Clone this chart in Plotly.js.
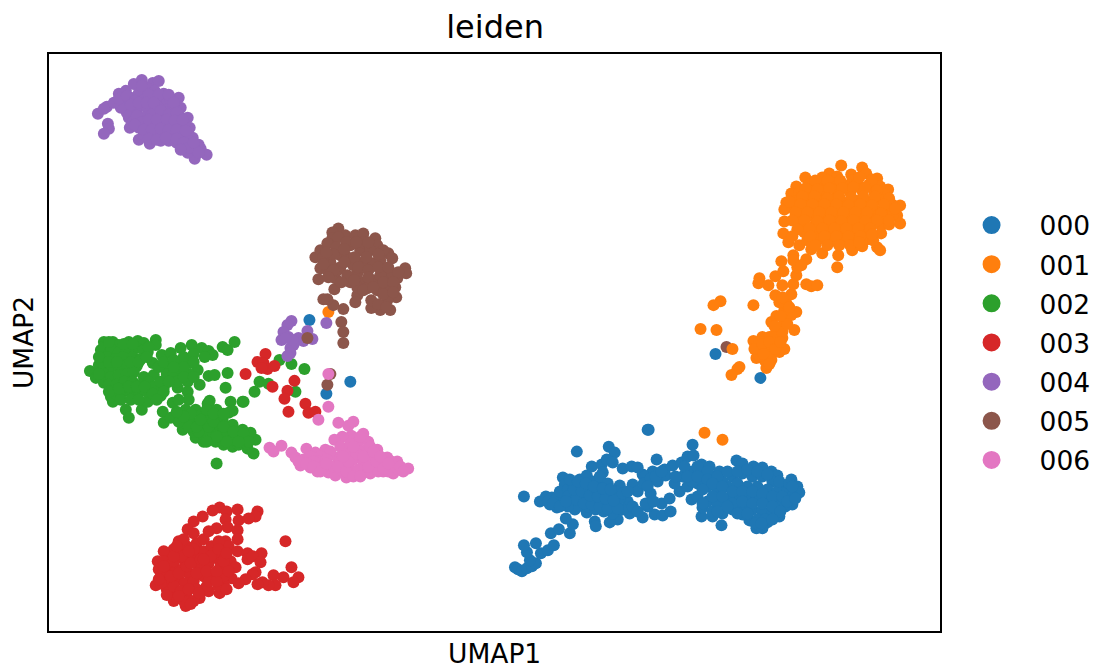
<!DOCTYPE html>
<html><head><meta charset="utf-8">
<script src="https://cdn.plot.ly/plotly-3.0.1.min.js"></script>
<style>html,body{margin:0;padding:0;background:#fff}#c{width:1094px;height:665px}</style>
</head><body><div id="c"></div>
<script>
const categories=['000','001','002','003','004','005','006'];
const colors=['#1f77b4','#ff7f0e','#2ca02c','#d62728','#9467bd','#8c564b','#e377c2'];
// values as [UMAP1, UMAP2] in arbitrary embedding units
const c000=[[601,202],[600,202],[645,187],[561,185],[529,180],[567,179],[609,172],[476,135],[467,64],[470,62],[474,60],[479,63],[484,65],[488,68],[482,71],[479,79],[476,86],[488,88],[493,78],[500,81],[506,86],[503,98],[511,102],[522,98],[525,107],[518,113],[547,110],[548,105],[492,130],[498,135],[504,134],[509,124],[515,154],[517,147],[532,152],[539,156],[544,165],[554,167],[559,172],[565,169],[555,159],[555,149],[572,146],[575,163],[584,165],[590,164],[595,157],[585,147],[580,130],[582,118],[595,114],[607,117],[615,116],[623,120],[614,128],[622,133],[570,112],[562,109],[539,119],[527,122],[515,127],[502,127],[625,166],[634,169],[640,175],[646,176],[654,167],[662,165],[672,160],[689,171],[695,168],[706,165],[715,164],[724,160],[730,156],[744,152],[750,145],[752,139],[745,127],[732,115],[720,109],[715,103],[709,103],[702,111],[695,117],[674,106],[665,115],[654,115],[655,124],[644,132],[632,140],[627,148],[617,162],[605,160],[597,155],[500,130],[508,132],[516,135],[524,130],[532,128],[540,125],[548,122],[556,120],[565,118],[575,122],[512,140],[520,142],[528,138],[536,135],[544,133],[552,130],[560,128],[568,127],[525,148],[533,145],[541,143],[549,140],[557,137],[565,135],[572,133],[530,125],[520,125],[545,150],[552,155],[560,148],[568,140],[585,125],[590,120],[600,125],[590,140],[596,148],[603,153],[610,150],[618,156],[603,138],[598,128],[606,130],[635,155],[645,160],[655,158],[665,155],[675,150],[685,155],[695,158],[705,155],[715,155],[725,150],[735,145],[640,145],[650,148],[660,145],[670,140],[680,145],[690,148],[700,145],[710,145],[720,142],[730,140],[740,140],[745,135],[650,135],[660,130],[670,128],[680,132],[690,135],[700,132],[710,135],[720,130],[730,128],[738,125],[665,120],[675,118],[685,122],[695,125],[705,122],[715,120],[725,118],[710,112],[718,112],[645,150],[628,155],[637,165],[650,165],[660,160],[668,278],[713,254],[261,312],[302,250],[278,238],
[640,155],[650,155],[660,152],[670,155],[680,160],[690,160],[700,162],[710,160],[720,157],[732,150],[742,148],[655,142],[665,148],[675,145],[685,140],[695,140],[705,140],[715,138],[725,135],[735,135],[745,145],[655,128],[665,135],[675,135],[685,128],[695,130],[705,128],[715,128],[725,125],[733,120],[670,120],[680,125],[690,118],[700,118],[708,108],[714,108],[725,112],[740,130],[748,133],[505,128],[512,125],[520,135],[528,132],[536,128],[544,127],[552,125],[560,123],[570,123],[518,130],[526,142],[534,140],[542,136],[550,135],[558,133],[566,131],[522,152],[530,150],[538,148],[546,145],[555,143],[563,142],[575,138],[580,140],[600,145],[608,155],[614,160]];
const c001=[[657,199],[675,192],[673,331],[666,327],[706,327],[653,303],[669,302],[692,265],[690,263],[684,257],[706,291],[715,295],[722,295],[730,300],[737,283],[709,274],[719,264],[714,282],[720,285],[725,279],[717,272],[724,272],[730,287],[735,294],[710,282],[747,302],[724,310],[729,316],[737,312],[749,320],[744,317],[737,322],[739,329],[732,330],[728,337],[744,338],[734,305],[712,354],[711,349],[721,347],[728,356],[735,347],[746,348],[749,357],[750,365],[736,361],[734,371],[746,377],[746,372],[759,373],[754,367],[759,348],[764,346],[770,347],[790,365],[791,377],[794,467],[782,459],[758,455],[749,446],[744,439],[739,430],[737,423],[737,411],[736,399],[741,390],[752,387],[764,383],[775,379],[805,382],[815,386],[830,385],[833,382],[834,399],[834,407],[842,408],[853,409],[850,417],[853,427],[842,432],[841,443],[830,454],[815,465],[804,458],[819,459],[775,455],[790,456],[805,452],[762,448],[772,447],[785,449],[797,447],[810,449],[822,448],[833,446],[752,440],[765,441],[778,438],[790,441],[803,440],[815,442],[827,440],[838,438],[748,431],[760,433],[772,431],[784,433],[796,430],[808,432],[820,431],[832,433],[845,428],[745,425],[757,423],[769,425],[781,423],[793,425],[805,423],[817,425],[829,422],[841,424],[750,416],[762,417],[774,415],[786,417],[798,415],[810,417],[822,415],[838,416],[846,418],[755,408],[767,407],[779,409],[791,407],[803,409],[815,407],[826,409],[757,400],[769,401],[781,399],[793,401],[805,399],[817,401],[760,392],[772,393],[784,391],[796,393],[808,391],[820,393],[826,392],[728,290],[718,290],[712,290],[725,285],[732,280],[712,276],[720,277],[728,298],[735,300],[727,306],[740,308],[733,316],[742,325],[735,335],[280,320],
[768,452],[780,452],[793,452],[812,455],[825,453],[758,444],[770,443],[782,444],[795,444],[806,445],[818,445],[830,442],[755,436],[767,436],[780,434],[792,436],[804,435],[816,436],[828,436],[842,434],[742,431],[753,428],[765,428],[777,428],[789,428],[801,427],[813,428],[825,427],[837,428],[848,424],[748,420],[760,420],[772,420],[784,420],[796,420],[808,420],[820,420],[834,419],[745,412],[757,412],[770,411],[782,412],[794,411],[806,412],[818,411],[830,412],[842,412],[750,403],[762,404],[775,404],[787,404],[799,404],[811,404],[823,404],[745,396],[763,396],[777,396],[789,396],[801,396],[813,396],[825,398],[768,387],[780,387],[792,387],[803,387],[812,390],[707,283],[715,288],[722,290],[728,283],[733,290],[716,278],[722,268]];
const c002=[[41,261],[47,254],[50,267],[55,290],[52,282],[64,290],[70,287],[80,290],[89,291],[95,289],[107,292],[107,287],[99,280],[55,249],[64,230],[62,235],[77,222],[80,214],[93,222],[99,230],[112,236],[115,244],[105,257],[104,269],[113,277],[122,279],[132,284],[143,287],[153,284],[160,281],[164,277],[156,275],[174,285],[179,282],[186,290],[149,262],[142,269],[160,256],[166,257],[179,259],[151,247],[139,250],[177,244],[129,244],[139,240],[140,232],[124,229],[130,232],[161,231],[159,228],[182,230],[194,230],[206,240],[211,250],[220,248],[114,220],[115,209],[122,214],[137,222],[147,222],[152,217],[168,222],[184,221],[180,219],[134,202],[147,194],[155,190],[155,204],[167,190],[175,187],[184,185],[190,187],[205,178],[199,183],[207,192],[202,199],[194,202],[184,207],[174,212],[169,215],[168,168],[231,272],[243,268],[256,263],[195,230],[247,240],[55,285],[62,283],[70,280],[78,283],[88,284],[95,282],[58,275],[66,273],[74,275],[84,275],[92,273],[55,265],[62,265],[70,265],[78,267],[88,266],[55,258],[62,255],[70,257],[78,258],[85,260],[95,255],[60,247],[68,247],[76,250],[84,250],[92,247],[100,250],[66,238],[74,240],[82,240],[90,240],[98,240],[72,232],[82,232],[90,232],[105,245],[112,250],[120,265],[128,270],[135,275],[145,278],[118,258],[125,258],[133,262],[140,258],[128,250],[120,250],[135,212],[143,210],[150,208],[160,212],[170,205],[180,200],[190,195],[135,205],[145,200],[155,197],[165,197],[175,195],[185,192],[195,192],[198,188],[142,218],[158,222],
[130,210],[140,205],[150,200],[160,205],[165,210],[175,205],[185,200],[195,198],[200,190],[190,190],[178,190],[168,195],[158,190],[148,205],[152,212],[165,218],[175,218],[135,215],[128,220],[60,290],[75,288],[84,288],[100,285],[50,275],[60,270],[68,270],[82,270],[90,270],[98,275],[50,258],[60,240],[70,243],[80,245],[88,245],[96,245],[104,238],[110,265],[115,270],[125,272],[135,265],[145,270],[125,265],[135,255],[145,255],[115,240],[108,232]];
const c003=[[237,90],[189,122],[190,111],[209,120],[207,115],[200,113],[171,124],[164,121],[178,120],[177,112],[179,104],[189,101],[168,103],[154,115],[145,110],[139,102],[130,90],[189,92],[177,90],[180,85],[189,80],[199,78],[199,72],[213,78],[204,75],[212,69],[243,64],[250,54],[245,49],[235,54],[225,56],[227,46],[220,46],[214,49],[207,59],[204,57],[209,47],[197,52],[190,48],[183,53],[175,48],[171,38],[160,40],[151,33],[137,25],[125,30],[107,46],[109,70],[119,78],[125,82],[182,70],[187,64],[170,72],[115,80],[122,70],[130,80],[138,85],[148,88],[155,92],[160,100],[145,98],[120,60],[128,62],[136,70],[146,75],[155,80],[163,85],[170,90],[165,78],[172,65],[160,68],[150,65],[140,58],[130,52],[120,50],[112,55],[110,62],[118,42],[128,40],[136,48],[145,50],[155,55],[165,55],[175,55],[170,45],[158,45],[148,42],[138,35],[128,33],[135,30],[145,30],[115,70],[217,278],[209,270],[215,269],[219,263],[213,264],[226,266],[197,258],[224,245],[246,251],[239,241],[236,233],[240,220],[257,228],[260,219],[267,220],
[112,48],[118,36],[125,45],[132,40],[140,42],[150,38],[160,50],[168,50],[178,42],[115,60],[122,55],[130,58],[138,65],[148,58],[158,60],[168,60],[180,60],[110,52],[125,70],[133,75],[142,68],[152,72],[162,75],[175,70],[125,75],[135,92],[145,82],[155,72],[170,82],[178,78],[128,85],[140,80],[115,65],[130,35],[142,27]];
const c004=[[49,519],[58,526],[55,524],[59,509],[60,504],[55,499],[70,539],[69,530],[77,542],[85,549],[93,553],[104,550],[110,552],[115,539],[130,535],[132,525],[139,515],[141,505],[144,495],[150,488],[152,484],[158,478],[146,474],[139,480],[134,485],[120,492],[101,489],[90,493],[81,505],[80,515],[75,530],[82,535],[90,540],[98,545],[106,542],[85,527],[95,533],[105,535],[115,530],[122,533],[78,520],[88,522],[98,525],[108,527],[118,523],[125,527],[85,512],[95,515],[103,518],[113,516],[123,516],[130,518],[90,505],[98,508],[108,508],[118,508],[128,508],[136,508],[95,498],[105,498],[112,500],[125,498],[133,498],[140,492],[128,490],[112,492],[146,484],[72,525],[65,530],[278,309],[243,311],[239,307],[235,300],[259,301],[264,293],[233,292],[240,295],[250,294],[255,291],[245,287],[242,284],[242,279],[239,276],[244,292],[237,294],
[70,534],[78,537],[86,532],[93,547],[100,538],[110,538],[120,538],[125,530],[82,528],[90,530],[98,530],[105,530],[112,522],[120,518],[128,520],[88,517],[92,510],[100,513],[108,513],[118,513],[126,512],[134,513],[86,508],[95,503],[103,503],[112,504],[120,503],[128,503],[137,502],[100,494],[108,493],[117,495],[128,494],[135,490],[140,485],[132,483],[145,490],[150,480]];
const c005=[[290,404],[284,400],[284,394],[297,397],[307,397],[315,399],[327,394],[329,387],[340,379],[344,374],[357,364],[358,359],[349,354],[347,345],[348,335],[342,322],[332,322],[323,324],[323,332],[309,337],[307,330],[295,323],[285,327],[279,333],[275,333],[286,343],[270,353],[272,364],[267,375],[272,382],[279,389],[292,377],[299,375],[302,387],[312,382],[322,382],[315,370],[305,367],[292,365],[282,370],[287,354],[302,350],[315,350],[325,352],[335,362],[325,369],[332,372],[319,344],[329,342],[339,345],[339,332],[309,345],[335,382],[315,390],[289,362],[279,362],[275,375],[339,354],[344,359],[350,360],[332,357],[309,359],[299,357],[293,310],[295,300],[295,289],[279,247],[259,294],[282,258],[679,285],
[290,395],[298,390],[308,390],[320,390],[288,385],[296,383],[306,375],[318,375],[330,378],[285,378],[278,380],[275,368],[285,362],[296,370],[310,365],[320,362],[330,365],[340,365],[280,355],[293,350],[306,352],[320,355],[335,350],[345,350],[315,342],[325,345],[335,338],[345,340],[330,328],[338,325]];
const c006=[[280,258],[280,225],[270,212],[290,209],[300,206],[305,210],[221,184],[225,180],[233,186],[243,179],[247,174],[252,166],[258,183],[267,179],[262,164],[269,160],[277,182],[280,159],[287,156],[298,154],[305,160],[314,159],[322,158],[335,160],[345,158],[360,163],[349,170],[339,174],[329,182],[320,190],[315,198],[303,196],[294,195],[286,192],[292,185],[289,174],[282,180],[272,175],[255,172],[262,175],[270,170],[278,172],[285,165],[292,170],[300,180],[310,190],[318,182],[325,175],[335,168],[345,165],[305,172],[315,170],[325,165],[300,165],[295,160],[310,162],[320,160],[275,165],[265,170],[330,160],[340,160],[350,162],[312,180],[302,188],
[250,170],[258,168],[265,165],[272,160],[278,168],[290,165],[298,160],[305,155],[312,155],[320,165],[328,170],[335,163],[343,170],[352,165],[355,160],[308,178],[315,175],[322,185],[300,170],[295,175],[305,185],[312,195],[325,180],[332,175],[340,168]];
// a point of group 001 that lies on top of a stray point of group 005
const c001top=[[685,283]];
const groups=[c000,c001,c002,c003,c004,c005,c006];

// legend keys: empty traces that only carry the larger legend symbol
const keys=categories.map((name,i)=>({
  type:'scatter',mode:'markers',name:name,legendgroup:name,x:[null],y:[null],
  marker:{color:colors[i],size:16,line:{color:colors[i],width:2}},hoverinfo:'skip'
}));
const traces=keys.concat(groups.map((g,i)=>({
  type:'scatter',mode:'markers',name:categories[i],legendgroup:categories[i],showlegend:false,
  x:g.map(p=>p[0]),y:g.map(p=>p[1]),
  marker:{color:colors[i],size:12,line:{width:0}},
  hoverinfo:'skip'
})));
traces.push({type:'scatter',mode:'markers',showlegend:false,legendgroup:categories[1],
  x:c001top.map(p=>p[0]),y:c001top.map(p=>p[1]),
  marker:{color:colors[1],size:12,line:{width:0}},hoverinfo:'skip'});

const font={family:'"DejaVu Sans",sans-serif',color:'#000'};
const layout={
  width:1094,height:665,paper_bgcolor:'#fff',plot_bgcolor:'#fff',
  margin:{l:49,r:154,t:54,b:34,pad:0},
  font:Object.assign({size:26.5},font),
  title:{text:'leiden',font:Object.assign({size:32},font),x:0.4525,xanchor:'center',y:0.96,yanchor:'middle'},
  xaxis:{range:[0,893],showgrid:false,zeroline:false,showticklabels:false,ticks:'',showline:true,mirror:true,linecolor:'#000',linewidth:2},
  yaxis:{range:[0,579],showgrid:false,zeroline:false,showticklabels:false,ticks:'',showline:true,mirror:true,linecolor:'#000',linewidth:2,
    title:{text:'UMAP2',font:Object.assign({size:26.5},font),standoff:6}},
  annotations:[{text:'UMAP1',xref:'paper',yref:'paper',x:0.5,y:0,xanchor:'center',yanchor:'middle',yshift:-22,borderpad:0,showarrow:false,
    font:Object.assign({size:26.5},font)}],
  legend:{xref:'container',yref:'container',x:0.8625,xanchor:'left',y:0.4845,yanchor:'middle',itemsizing:'trace',itemwidth:86,tracegroupgap:1.7,
    font:Object.assign({size:26.5},font),bgcolor:'rgba(0,0,0,0)',borderwidth:0,itemclick:false,itemdoubleclick:false},
  showlegend:true
};
Plotly.newPlot('c',traces,layout,{displayModeBar:false});
</script></body></html>
